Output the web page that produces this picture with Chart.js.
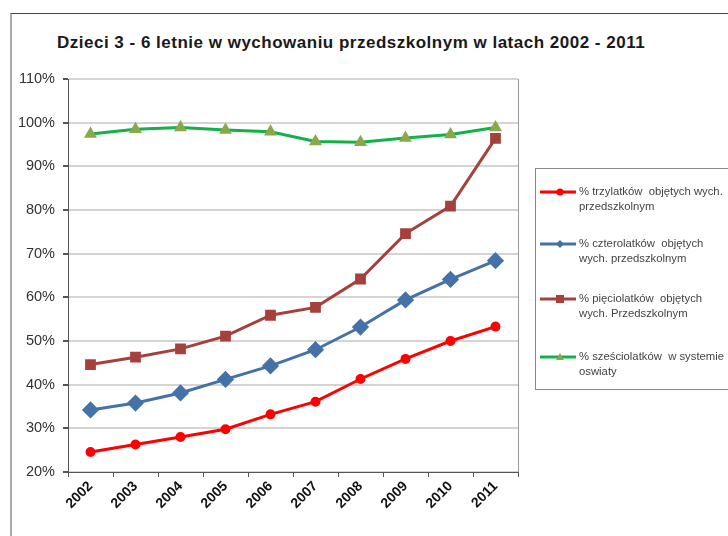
<!DOCTYPE html>
<html>
<head>
<meta charset="utf-8">
<script src="https://cdn.jsdelivr.net/npm/chart.js@4"></script>
<style>
  body { margin: 0; background: #fff; font-family: "Liberation Sans", Arial, sans-serif; }
  #wrap { position: relative; width: 728px; height: 536px; overflow: hidden; }
  #frame { position: absolute; left: 10px; top: 13px; width: 760px; height: 560px; border: 1px solid #444; border-left: 2px solid #aaa; }
  #title { position: absolute; left: 57px; top: 34px; font-size: 17px; line-height: 17px; letter-spacing: 0.5px; font-weight: bold; color: #1a1a1a; white-space: nowrap; }
  #chart { position: absolute; left: 0; top: 0; }
  #legend { position: absolute; left: 535px; top: 168px; width: 220px; height: 220px; border: 1px solid #888; }
  .item { position: absolute; left: 4px; }
  .item svg { position: absolute; left: 0; top: 0; }
  .item div { position: absolute; left: 39px; font-size: 11.3px; line-height: 15px; color: #444; white-space: pre; }
</style>
</head>
<body>
<div id="wrap">
  <div id="frame"></div>
  <div id="title">Dzieci 3 - 6 letnie w wychowaniu przedszkolnym w latach 2002 - 2011</div>
  <canvas id="chart" width="728" height="536"></canvas>
  <div id="legend"></div>
</div>
<script>
// dane
const years = ['2002', '2003', '2004', '2005', '2006', '2007', '2008', '2009', '2010', '2011'];
const trzylatki = [24.6, 26.3, 28.0, 29.8, 33.2, 36.1, 41.3, 45.9, 50.0, 53.3];
const czterolatki = [34.2, 35.8, 38.1, 41.2, 44.3, 48.0, 53.2, 59.4, 64.1, 68.4];
const pieciolatki = [44.6, 46.3, 48.2, 51.1, 55.9, 57.7, 64.2, 74.6, 80.9, 96.4];
const szesciolatki = [97.4, 98.5, 98.9, 98.3, 97.9, 95.7, 95.5, 96.5, 97.3, 98.9];
const labels = [
  ['% trzylatków  objętych wych.', 'przedszkolnym'],
  ['% czterolatków  objętych', 'wych. przedszkolnym'],
  ['% pięciolatków  objętych', 'wych. Przedszkolnym'],
  ['% sześciolatków  w systemie', 'oswiaty']
];
const yTicks = [20, 30, 40, 50, 60, 70, 80, 90, 100, 110];

const styles = [
  { color: '#ff0000', fill: '#ff0000', point: 'circle', r: 3.5 },
  { color: '#4472a8', fill: '#4472a8', point: 'rectRot', r: 6.5 },
  { color: '#a5403d', fill: '#a5403d', point: 'rect', r: 5.5 },
  { color: '#14b04a', fill: '#8aa84a', point: 'triangle', r: 4.5 }
];
const series = [trzylatki, czterolatki, pieciolatki, szesciolatki];

const ctx = document.getElementById('chart');
const chart = new Chart(ctx, {
  type: 'line',
  data: {
    labels: years,
    datasets: series.map((d, i) => ({
      label: labels[i].join(' '),
      data: d,
      borderColor: styles[i].color,
      backgroundColor: styles[i].fill,
      pointBorderColor: styles[i].fill,
      pointBackgroundColor: styles[i].fill,
      pointStyle: styles[i].point,
      pointRadius: styles[i].r,
      borderWidth: 3,
      tension: 0
    })).reverse()
  },
  options: {
    responsive: false,
    animation: false,
    layout: { padding: { left: 0, right: 210, top: 79, bottom: 0 } },
    plugins: { legend: { display: false }, tooltip: { enabled: false } },
    scales: {
      x: {
        offset: true,
        grid: { offset: true, drawOnChartArea: false, color: '#555', tickLength: 5 },
        border: { color: '#555', width: 1 },
        ticks: {
          minRotation: 45, maxRotation: 45, color: '#111', padding: 1,
          font: { family: 'Liberation Sans', size: 14, weight: 'bold' }
        },
        afterFit: s => { s.height = 64; }
      },
      y: {
        min: 20, max: 110,
        afterBuildTicks: s => { s.ticks = yTicks.map(v => ({ value: v })); },
        grid: { color: '#d4d4d4', lineWidth: 2, tickLength: 5, tickColor: '#555' },
        border: { color: '#555', width: 1 },
        ticks: {
          color: '#333', padding: 8,
          font: { family: 'Liberation Sans', size: 14.5 },
          callback: v => v + '%'
        },
        afterFit: s => { s.width = 68; }
      }
    }
  },
  plugins: [{
    id: 'plotBorder',
    afterDraw(c) {
      const a = c.chartArea;
      c.ctx.save();
      c.ctx.strokeStyle = '#999';
      c.ctx.lineWidth = 1;
      c.ctx.beginPath();
      c.ctx.moveTo(a.right + 0.5, a.top);
      c.ctx.lineTo(a.right + 0.5, a.bottom);
      c.ctx.stroke();
      c.ctx.restore();
    }
  }]
});

// legenda w HTML (etykiety w dwóch liniach)
const legend = document.getElementById('legend');
const tops = [23, 75, 130, 188];
labels.forEach((l, i) => {
  const st = styles[i];
  let mark = '';
  if (st.point === 'circle') mark = '<circle cx="20" cy="6" r="3.5" fill="' + st.fill + '"/>';
  if (st.point === 'rectRot') mark = '<polygon points="20,2 24,6 20,10 16,6" fill="' + st.fill + '"/>';
  if (st.point === 'rect') mark = '<rect x="16" y="2" width="8" height="8" fill="' + st.fill + '"/>';
  if (st.point === 'triangle') mark = '<polygon points="20,2 24,9 16,9" fill="' + st.fill + '"/>';
  const it = document.createElement('div');
  it.className = 'item';
  it.style.top = (tops[i] - 6) + 'px';
  it.innerHTML = '<svg width="38" height="12"><line x1="0" y1="6" x2="36" y2="6" stroke="' + st.color + '" stroke-width="3"/>' + mark + '</svg>' +
    '<div style="top:-2px">' + l[0] + '<br>' + l[1] + '</div>';
  legend.appendChild(it);
});
</script>
</body>
</html>
